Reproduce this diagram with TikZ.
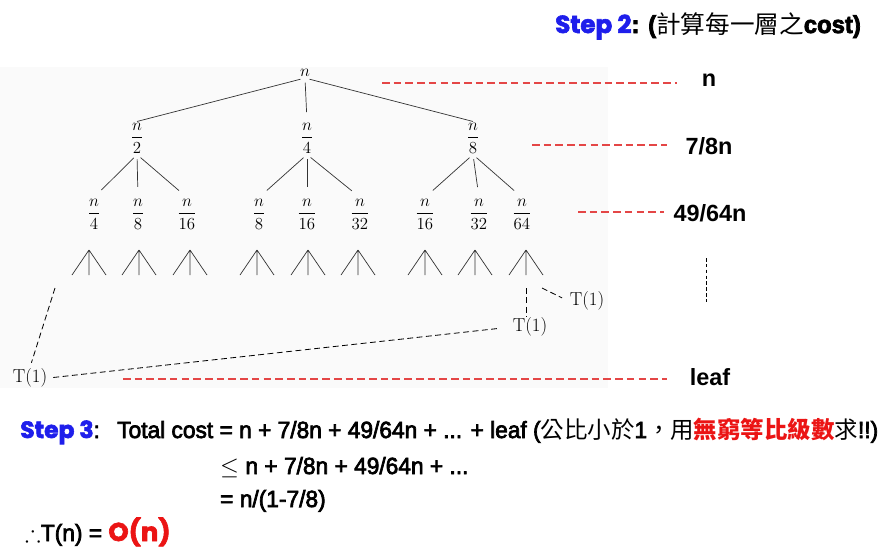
\documentclass[tikz,border=0pt]{standalone}
\usepackage{amssymb}
\usepackage{fontspec}
\newfontfamily\costfont{Liberation Sans}[FakeStretch=0.97, FakeBold=3]
\newfontfamily\levelfont{Liberation Sans}
\newfontfamily\cjk{Noto Sans CJK TC}
\newfontfamily\stepfont{Poppins}[BoldFeatures={FakeBold=2.5}]
\usetikzlibrary{positioning, calc}
\definecolor{stepblue}{RGB}{30,30,235}
\definecolor{hotred}{RGB}{235,20,20}
\definecolor{guide}{RGB}{228,70,70}
\definecolor{panel}{RGB}{250,250,250}
\newcommand\zh[1]{{\cjk\mdseries#1}}
\newcommand\zhred[1]{{\cjk\bfseries\color{hotred}#1}}
\newcommand\stepword[2][stepblue]{{\stepfont\bfseries\color{#1}#2}}
\tikzset{
    frac/.style={inner sep=1pt, font=\fontsize{15}{17}\selectfont},
    unit/.style={inner sep=1pt, font=\fontsize{16}{18}\selectfont},
    edge/.style={draw=black!80, line width=0.6pt},
    leafline/.style={draw=black, line width=0.7pt, dash pattern=on 5pt off 3pt},
    costline/.style={draw=guide, line width=0.9pt, dash pattern=on 6.5pt off 3.5pt},
    level/.style={font=\levelfont\bfseries\fontsize{20}{24}\selectfont, inner sep=0pt},
    costtext/.style={font=\costfont\fontsize{20}{24}\selectfont, inner sep=0pt, anchor=base west}
}
\begin{document}
\begin{tikzpicture}[x=0.03cm, y=-0.03cm]
\useasboundingbox (0,0) rectangle (893,555);
\fill[panel] (0,67) rectangle (608,388);

% Title
\node[costtext, font=\costfont\bfseries\fontsize{21}{24}\selectfont] (title) at (555,33)
    {\stepword{Step 2}: (\zh{計算每一層之}cost)};

% Recursion tree
\node[frac] (root) at (305,73) {$n$};
\node[frac] (half) at (137,138) {$\displaystyle\frac{n}{2}$};
\node[frac] (quarter) at (307,138) {$\displaystyle\frac{n}{4}$};
\node[frac] (eighth) at (473,138) {$\displaystyle\frac{n}{8}$};

\draw[edge, shorten <=4pt] (root.south) -- (half.north);
\draw[edge, shorten <=4pt, shorten >=8pt] (root.south) -- (quarter.north);
\draw[edge, shorten <=4pt] (root.south) -- (eighth.north);

\foreach \x/\d/\f [count=\i] in {94/4/89, 138/8/139, 187/16/190, 259/8/257, 307/16/308,
                                 360/32/358, 425/16/425, 479/32/475, 522/64/526}{
    \node[frac] (g\i) at (\x,214) {$\displaystyle\frac{n}{\d}$};
    \coordinate (fan\i) at (\f,250);
    \draw[edge] (fan\i) -- ++(-17,25) (fan\i) -- ++(0,25) (fan\i) -- ++(17,25);
}

\foreach \p/\a/\b/\e in {half/g1/g2/g3, quarter/g4/g5/g6, eighth/g7/g8/g9}{
    \draw[edge, shorten <=4pt, shorten >=9pt] (\p.south) -- (\a.north);
    \draw[edge, shorten <=4pt, shorten >=9pt] (\p.south) -- (\b.north);
    \draw[edge, shorten <=4pt, shorten >=9pt] (\p.south) -- (\e.north);
}

% Leaves
\node[unit] (tleft) at (30,378) {T(1)};
\node[unit] (tmid) at (530,327) {T(1)};
\node[unit] (tright) at (587,301) {T(1)};
\coordinate (drop1) at (55,288);
\coordinate (drop2) at (526,288);
\coordinate (drop3) at (542,288);
\draw[leafline, shorten >=4pt] (drop1) -- (tleft.north);
\draw[leafline, shorten <=4pt, shorten >=10pt] (tleft.east) -- (tmid.west);
\draw[leafline] (drop2) -- (drop2 |- tmid.north);
\draw[leafline, shorten >=6pt] (drop3) -- (tright.west);

% Cost of each level
\node[level] (lvl1) at (709,80) {n};
\node[level] (lvl2) at (709,146) {7/8n};
\node[level] (lvl3) at (710,213) {49/64n};
\node[level] (lvl4) at (710,377) {leaf};
\coordinate (from1) at (382,83);
\coordinate (from2) at (532,145);
\coordinate (from3) at (578,212);
\coordinate (from4) at (123,379);
\foreach \from/\lab/\gap in {from1/lvl1/21pt, from2/lvl2/16pt, from3/lvl3/8pt, from4/lvl4/19pt}
    \draw[costline, shorten >=\gap] (\from) -- (\from -| \lab.west);
\coordinate (dots1) at (706,258);
\coordinate (dots2) at (706,302);
\draw[leafline, dash pattern=on 3pt off 2pt] (dots1) -- (dots2);

% Total cost
\node[costtext] (step3) at (20,438) {\stepword{Step 3}:};
\node[costtext] (sum) at (117,438) {Total cost = n + 7/8n + 49/64n + ... + leaf (\zh{公比小於}1\zh{，用}\zhred{無窮等比級數}\zh{求}!!)};
\node[costtext] (bound) at (220,474) {$\leq$ n + 7/8n + 49/64n + ...};
\node[costtext] (closed) at (220,507) {= n/(1-7/8)};
\node[costtext] (result) at (25,541) {$\therefore$T(n) =\ \stepword[hotred]{\fontsize{22}{24}\selectfont O(n)}};
\end{tikzpicture}
\end{document}
